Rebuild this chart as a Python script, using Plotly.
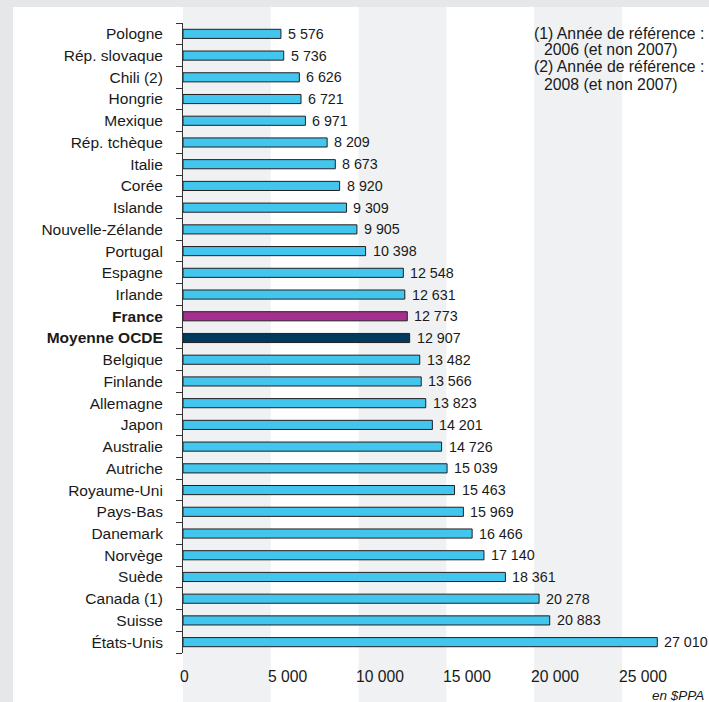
import plotly.graph_objects as go

categories = ["Pologne", "Rép. slovaque", "Chili (2)", "Hongrie", "Mexique", "Rép. tchèque",
              "Italie", "Corée", "Islande", "Nouvelle-Zélande", "Portugal", "Espagne", "Irlande",
              "France", "Moyenne OCDE", "Belgique", "Finlande", "Allemagne", "Japon", "Australie",
              "Autriche", "Royaume-Uni", "Pays-Bas", "Danemark", "Norvège", "Suède", "Canada (1)",
              "Suisse", "États-Unis"]
values = [5576, 5736, 6626, 6721, 6971, 8209, 8673, 8920, 9309, 9905, 10398, 12548, 12631,
          12773, 12907, 13482, 13566, 13823, 14201, 14726, 15039, 15463, 15969, 16466, 17140,
          18361, 20278, 20883, 27010]
tick_values = [0, 5000, 10000, 15000, 20000, 25000]
tick_labels = ["0", "5 000", "10 000", "15 000", "20 000", "25 000"]
band_ranges = [(0, 5000), (10000, 15000), (20000, 25000)]
bold_categories = ["France", "Moyenne OCDE"]
notes = ["(1) Année de référence :", "2006 (et non 2007)",
         "(2) Année de référence :", "2008 (et non 2007)"]
unit_label = "en $PPA"

W, H = 709, 702
L, R, T, B = 183, 0, 23, 49
PX_PER_UNIT = (622 - 183) / 25000.0
xmax = (W - L - R) / PX_PER_UNIT
plot_h = H - T - B

def px_to_paper_x(px):
    return (px - L) / (W - L - R)

def px_to_paper_y(py):
    return (H - B - py) / plot_h

CYAN = "#43c6ee"
MAGENTA = "#a5308f"
NAVY = "#003a5c"
OUTLINE = "#231f20"
FONT = "Liberation Sans"

colors = []
for c in categories:
    if c == "France":
        colors.append(MAGENTA)
    elif c == "Moyenne OCDE":
        colors.append(NAVY)
    else:
        colors.append(CYAN)

def fmt(v):
    return f"{v:,}".replace(",", " ")

ticktext = [f"<b>{c}</b>" if c in bold_categories else c for c in categories]

fig = go.Figure()
fig.add_trace(go.Bar(
    y=categories, x=values, orientation="h",
    marker=dict(color=colors, line=dict(color=OUTLINE, width=1)),
    width=0.42, hoverinfo="skip", showlegend=False,
))

annotations = []
for c, v in zip(categories, values):
    annotations.append(dict(
        x=v, y=c, xref="x", yref="y", text=fmt(v), showarrow=False,
        xanchor="left", yanchor="middle", xshift=5,
        font=dict(family=FONT, size=14.3, color="#1a1a1a"),
    ))
for tv, tl in zip(tick_values, tick_labels):
    annotations.append(dict(
        x=tv, y=0, xref="x", yref="paper", text=tl, showarrow=False,
        xanchor="left" if tv > 0 else "center", yanchor="middle",
        xshift=-5 if tv > 0 else 1, yshift=-23,
        font=dict(family=FONT, size=15.7, color="#1a1a1a"),
    ))
annotations.append(dict(
    x=px_to_paper_x(706), y=px_to_paper_y(695), xref="paper", yref="paper",
    text=f"<i>{unit_label}</i>", showarrow=False, xanchor="right", yanchor="middle",
    font=dict(family=FONT, size=13.5, color="#1a1a1a"),
))
note_x = [532, 542, 532, 542]
note_y = [33, 50, 67, 84]
for t, nx, ny in zip(notes, note_x, note_y):
    annotations.append(dict(
        x=px_to_paper_x(nx), y=px_to_paper_y(ny), xref="paper", yref="paper",
        text=t, showarrow=False, xanchor="left", yanchor="middle",
        font=dict(family=FONT, size=15.8, color="#1a1a1a"),
    ))

shapes = [dict(type="rect", xref="paper", yref="paper",
               x0=px_to_paper_x(13), x1=px_to_paper_x(720),
               y0=px_to_paper_y(720), y1=px_to_paper_y(7),
               fillcolor="white", line=dict(width=0), layer="below")]
for a, b in band_ranges:
    shapes.append(dict(type="rect", xref="x", yref="paper", x0=a, x1=b,
                       y0=px_to_paper_y(720), y1=px_to_paper_y(7),
                       fillcolor="#f0f1f3", line=dict(width=0), layer="below"))

fig.update_layout(
    width=W, height=H,
    margin=dict(l=L, r=R, t=T, b=B, pad=0),
    paper_bgcolor="#e6e7e8", plot_bgcolor="rgba(0,0,0,0)",
    bargap=0.58,
    shapes=shapes, annotations=annotations,
    font=dict(family=FONT, color="#1a1a1a"),
    xaxis=dict(range=[0, xmax], showgrid=False, zeroline=False, showline=False,
               showticklabels=False, ticks="", automargin=False, fixedrange=True),
    yaxis=dict(type="category", categoryarray=categories, range=[len(categories) - 0.5, -0.5],
               tickmode="array", tickvals=categories, ticktext=ticktext,
               tickson="boundaries", ticks="outside", ticklen=6, tickcolor="#333333",
               showline=True, linecolor="#333333", linewidth=1, showgrid=False,
               zeroline=False, automargin=False, ticklabelstandoff=16,
               tickfont=dict(family=FONT, size=15.5, color="#1a1a1a")),
)

fig.write_html("out.html")
